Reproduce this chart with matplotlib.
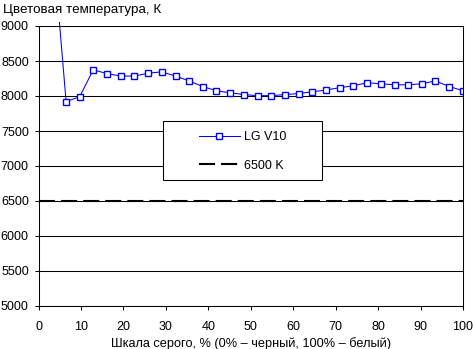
#Color temperature vs gray level chart
import matplotlib
matplotlib.use("Agg")
import matplotlib.pyplot as plt
from matplotlib.patches import Rectangle
from matplotlib.transforms import Bbox, TransformedBbox

plt.rcParams['font.family'] = ['Liberation Sans', 'DejaVu Sans']
plt.rcParams['font.size'] = 9

#Values
gray = [3.2, 6.5, 9.7, 12.9, 16.1, 19.4, 22.6, 25.8, 29.0, 32.3, 35.5,
        38.7, 41.9, 45.2, 48.4, 51.6, 54.8, 58.1, 61.3, 64.5, 67.7, 71.0,
        74.2, 77.4, 80.6, 83.9, 87.1, 90.3, 93.5, 96.8, 100]
temp = [10300, 7920, 7990, 8375, 8320, 8285, 8285, 8325, 8345, 8285, 8215,
        8135, 8075, 8045, 8020, 8005, 8005, 8020, 8035, 8060, 8085, 8120,
        8145, 8190, 8175, 8160, 8160, 8175, 8215, 8135, 8075]
ref_x = [0, 100]
ref_y = [6500, 6500]
series_label = "LG V10"
ref_label = "6500 K"
yticks = [5000, 5500, 6000, 6500, 7000, 7500, 8000, 8500, 9000]
xticks = [0, 10, 20, 30, 40, 50, 60, 70, 80, 90, 100]

W, H = 473, 349
fig = plt.figure(figsize=(W / 100, H / 100), dpi=100)
ax = fig.add_axes([38.5 / W, 1 - 306 / H, (463 - 38.5) / W, (306 - 26) / H])

ax.set_xlim(0, 100)
ax.set_ylim(5000, 9000)
ax.set_yticks(yticks)
ax.set_xticks(xticks)
ax.yaxis.grid(True, color="black", linewidth=0.75)
ax.set_axisbelow(True)
ax.spines["top"].set_visible(False)
for s in ["left", "right", "bottom"]:
    ax.spines[s].set_linewidth(0.75)
ax.tick_params(length=3, width=0.75, color="black", labelsize=9)
ax.tick_params(axis="x", pad=7.5)
ax.tick_params(axis="y", pad=4)

ref_line, = ax.plot(ref_x, ref_y, color="black", linewidth=1.5)
ref_line.set_dashes([7.7, 2.9])

line, = ax.plot(gray, temp, color="#0000ff", linewidth=0.75, marker="s",
                markersize=5.0, markerfacecolor="white", markeredgecolor="#0000ff",
                markeredgewidth=1.0)
line.set_clip_box(TransformedBbox(Bbox([[0, 0], [1, 1.015]]), ax.transAxes))

fig.text(3 / W, 1 - 10 / H, "Цветовая температура, К", ha="left", va="center", fontsize=9.6)
ax.set_xlabel("Шкала серого, % (0% – черный, 100% – белый)", fontsize=9.2, labelpad=3)

#legend box drawn by hand so its padding matches
fig.patches.append(Rectangle((163 / W, 1 - 180 / H), (322 - 163) / W, (180 - 121) / H,
                             transform=fig.transFigure, facecolor="white",
                             edgecolor="black", linewidth=0.75, zorder=5))
leg = fig.legend([line, ref_line], [series_label, ref_label], loc="upper left",
                 bbox_to_anchor=(196 / W, 1 - 129 / H), frameon=False, fontsize=9,
                 handlelength=3.3, handletextpad=0.3, labelspacing=1.3,
                 borderpad=0.2, borderaxespad=0)
leg.set_zorder(6)

fig.savefig("out.png", dpi=100)
